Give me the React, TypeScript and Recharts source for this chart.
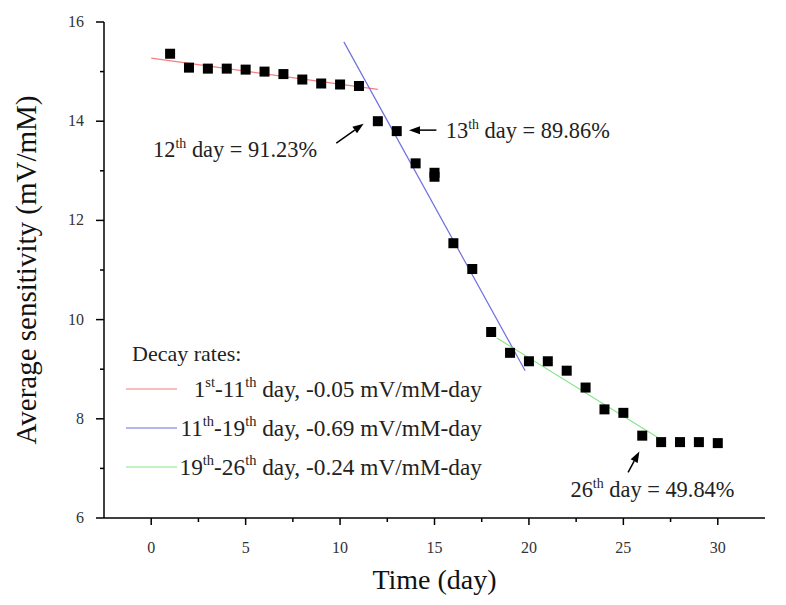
import React from 'react';
import {
  ComposedChart,
  Scatter,
  Line,
  XAxis,
  YAxis,
  ReferenceLine,
  ReferenceDot,
  Legend,
} from 'recharts';

// measured sensitivity per day
const days = [1, 2, 3, 4, 5, 6, 7, 8, 9, 10, 11, 12, 13, 14, 15, 15, 16, 17, 18, 19, 20, 21, 22, 23, 24, 25, 26, 27, 28, 29, 30];
const sensitivity = [15.36, 15.08, 15.06, 15.06, 15.04, 15.0, 14.95, 14.84, 14.76, 14.74, 14.71, 14.0, 13.8, 13.15, 12.96, 12.88, 11.54, 11.02, 9.75, 9.33, 9.16, 9.16, 8.97, 8.63, 8.19, 8.12, 7.66, 7.53, 7.53, 7.53, 7.51];

// linear fit segments (end points)
const redFit = [{ x: 0, y: 15.27 }, { x: 12, y: 14.64 }];
const blueFit = [{ x: 10.2, y: 15.6 }, { x: 19.8, y: 8.97 }];
const greenFit = [{ x: 18.3, y: 9.63 }, { x: 26.8, y: 7.63 }];

const legendTitle = 'Decay rates:';
const fitNames = [
  '1st-11th day, -0.05 mV/mM-day',
  '11th-19th day, -0.69 mV/mM-day',
  '19th-26th day, -0.24 mV/mM-day',
];

const xTicks = [0, 2.5, 5, 7.5, 10, 12.5, 15, 17.5, 20, 22.5, 25, 27.5, 30];
const yTicks = [6, 7, 8, 9, 10, 11, 12, 13, 14, 15, 16];

const notes = [
  { x: 0.1, y: 13.28, text: '12th day = 91.23%' },
  { x: 15.6, y: 13.66, text: '13th day = 89.86%' },
  { x: 22.2, y: 6.42, text: '26th day = 49.84%' },
];
const arrows = [
  [{ x: 9.8, y: 13.56 }, { x: 11.25, y: 13.95 }],
  [{ x: 15.1, y: 13.82 }, { x: 13.65, y: 13.82 }],
  [{ x: 25.25, y: 6.92 }, { x: 25.85, y: 7.34 }],
];

const data = days.map((d, i) => ({ x: d, y: sensitivity[i] }));

const FONT = 'Times New Roman, Liberation Serif, serif';

// render "12th" style superscripts as tspans
function supText(s: string, size: number) {
  const parts = s.split(/(\d+)(st|nd|rd|th)/);
  const out: React.ReactNode[] = [];
  let shifted = false;
  for (let i = 0; i < parts.length; i++) {
    const p = parts[i];
    if (!p) continue;
    if (i % 3 === 2) {
      out.push(<tspan key={i} fontSize={size * 0.62} dy={-size * 0.42}>{p}</tspan>);
      shifted = true;
    } else {
      out.push(<tspan key={i} dy={shifted ? size * 0.42 : 0}>{p}</tspan>);
      shifted = false;
    }
  }
  return out;
}

const XTick = (props: any) => {
  const { x, y, payload } = props;
  const major = payload.value % 5 === 0;
  return (
    <g>
      <line x1={x} x2={x} y1={y} y2={y + (major ? 7 : 4)} stroke="#000" strokeWidth={1.5} />
      {major && (
        <text x={x} y={y + 35} textAnchor="middle" fontSize={16} style={{ fontFamily: FONT }} fill="#333">
          {payload.value}
        </text>
      )}
    </g>
  );
};

const YTick = (props: any) => {
  const { x, y, payload } = props;
  const major = payload.value % 2 === 0;
  return (
    <g>
      <line x1={x} x2={x - (major ? 8 : 4)} y1={y} y2={y} stroke="#000" strokeWidth={1.5} />
      {major && (
        <text x={x - 20} y={y + 5} textAnchor="end" fontSize={16} style={{ fontFamily: FONT }} fill="#333">
          {payload.value}
        </text>
      )}
    </g>
  );
};

const Square = (props: any) => (
  <rect x={props.cx - 5} y={props.cy - 5} width={10} height={10} fill="#000" />
);

const Arrow = (props: any) => {
  const { x1, y1, x2, y2 } = props;
  const a = Math.atan2(y2 - y1, x2 - x1);
  const len = 11;
  const w = 4;
  const bx = x2 - len * Math.cos(a);
  const by = y2 - len * Math.sin(a);
  const px = -Math.sin(a) * w;
  const py = Math.cos(a) * w;
  return (
    <g>
      <line x1={x1} y1={y1} x2={bx} y2={by} stroke="#000" strokeWidth={1.5} />
      <polygon points={`${x2},${y2} ${bx + px},${by + py} ${bx - px},${by - py}`} fill="#000" />
    </g>
  );
};

const LegendBox = (props: any) => {
  const items = (props.payload || [])
    .filter((p: any) => fitNames.includes(p.value))
    .sort((a: any, b: any) => fitNames.indexOf(a.value) - fitNames.indexOf(b.value));
  return (
    <svg width={380} height={150} style={{ overflow: 'visible', fontFamily: FONT }}>
      <text x={12} y={31} fontSize={22} fill="#222">{legendTitle}</text>
      {items.map((it: any, i: number) => {
        const cy = 59 + i * 39;
        return (
          <g key={i}>
            <line x1={6} x2={57} y1={cy} y2={cy} stroke={it.color} strokeWidth={1.2} />
            <text x={362} y={cy + 8} textAnchor="end" fontSize={23.3} fill="#222">
              {supText(it.value, 23.3)}
            </text>
          </g>
        );
      })}
    </svg>
  );
};

export default function App() {
  return (
    <div style={{ position: 'absolute', left: 0, top: 0, width: 786, height: 605, background: '#fff', fontFamily: FONT }}>
      <ComposedChart width={786} height={605} margin={{ top: 22, right: 21, left: 0, bottom: 0 }} style={{ fontFamily: FONT }}>
        <XAxis
          dataKey="x"
          type="number"
          domain={[-2.5, 32.5]}
          ticks={xTicks}
          interval={0}
          height={87}
          tickSize={0}
          tickMargin={0}
          tick={<XTick />}
          axisLine={{ stroke: '#000', strokeWidth: 1.5 }}
          allowDataOverflow
          label={{ value: 'Time (day)', position: 'insideBottom', offset: 16, fontSize: 28, fill: '#111' }}
        />
        <XAxis xAxisId="top" dataKey="x" type="number" orientation="top" domain={[-2.5, 32.5]} height={0} tick={false} tickLine={false} axisLine={{ stroke: '#000', strokeWidth: 1.5 }} allowDataOverflow />
        <YAxis
          dataKey="y"
          type="number"
          domain={[6, 16]}
          ticks={yTicks}
          interval={0}
          width={104}
          tickSize={0}
          tickMargin={0}
          tick={<YTick />}
          axisLine={{ stroke: '#000', strokeWidth: 1.5 }}
          allowDataOverflow
          label={{ value: 'Average sensitivity (mV/mM)', angle: -90, position: 'insideLeft', offset: 26, fontSize: 29, fill: '#111', style: { textAnchor: 'middle' } }}
        />
        <YAxis yAxisId="right" orientation="right" type="number" domain={[6, 16]} width={0} tick={false} tickLine={false} axisLine={{ stroke: '#000', strokeWidth: 1.5 }} allowDataOverflow />

        <Line data={redFit} dataKey="y" name={fitNames[0]} stroke="#f27f7f" strokeWidth={1.2} dot={false} isAnimationActive={false} />
        <Line data={blueFit} dataKey="y" name={fitNames[1]} stroke="#6f6fe0" strokeWidth={1.2} dot={false} isAnimationActive={false} />
        <Line data={greenFit} dataKey="y" name={fitNames[2]} stroke="#86e586" strokeWidth={1.2} dot={false} isAnimationActive={false} />
        <Scatter data={data} dataKey="y" shape={<Square />} legendType="none" isAnimationActive={false} />

        {arrows.map((seg, i) => (
          <ReferenceLine key={`a${i}`} segment={seg} shape={<Arrow />} ifOverflow="visible" />
        ))}
        {notes.map((n, i) => (
          <ReferenceDot
            key={`n${i}`}
            x={n.x}
            y={n.y}
            r={0}
            ifOverflow="visible"
            shape={(p: any) => (
              <text x={p.cx} y={p.cy} fontSize={22.4} fill="#222" style={{ fontFamily: FONT }}>
                {supText(n.text, 22.4)}
              </text>
            )}
          />
        ))}

        <Legend
          layout="horizontal"
          verticalAlign="middle"
          align="center"
          content={<LegendBox />}
          wrapperStyle={{ position: 'absolute', left: 120, top: 330, width: 380, height: 150 }}
        />
      </ComposedChart>
    </div>
  );
}
